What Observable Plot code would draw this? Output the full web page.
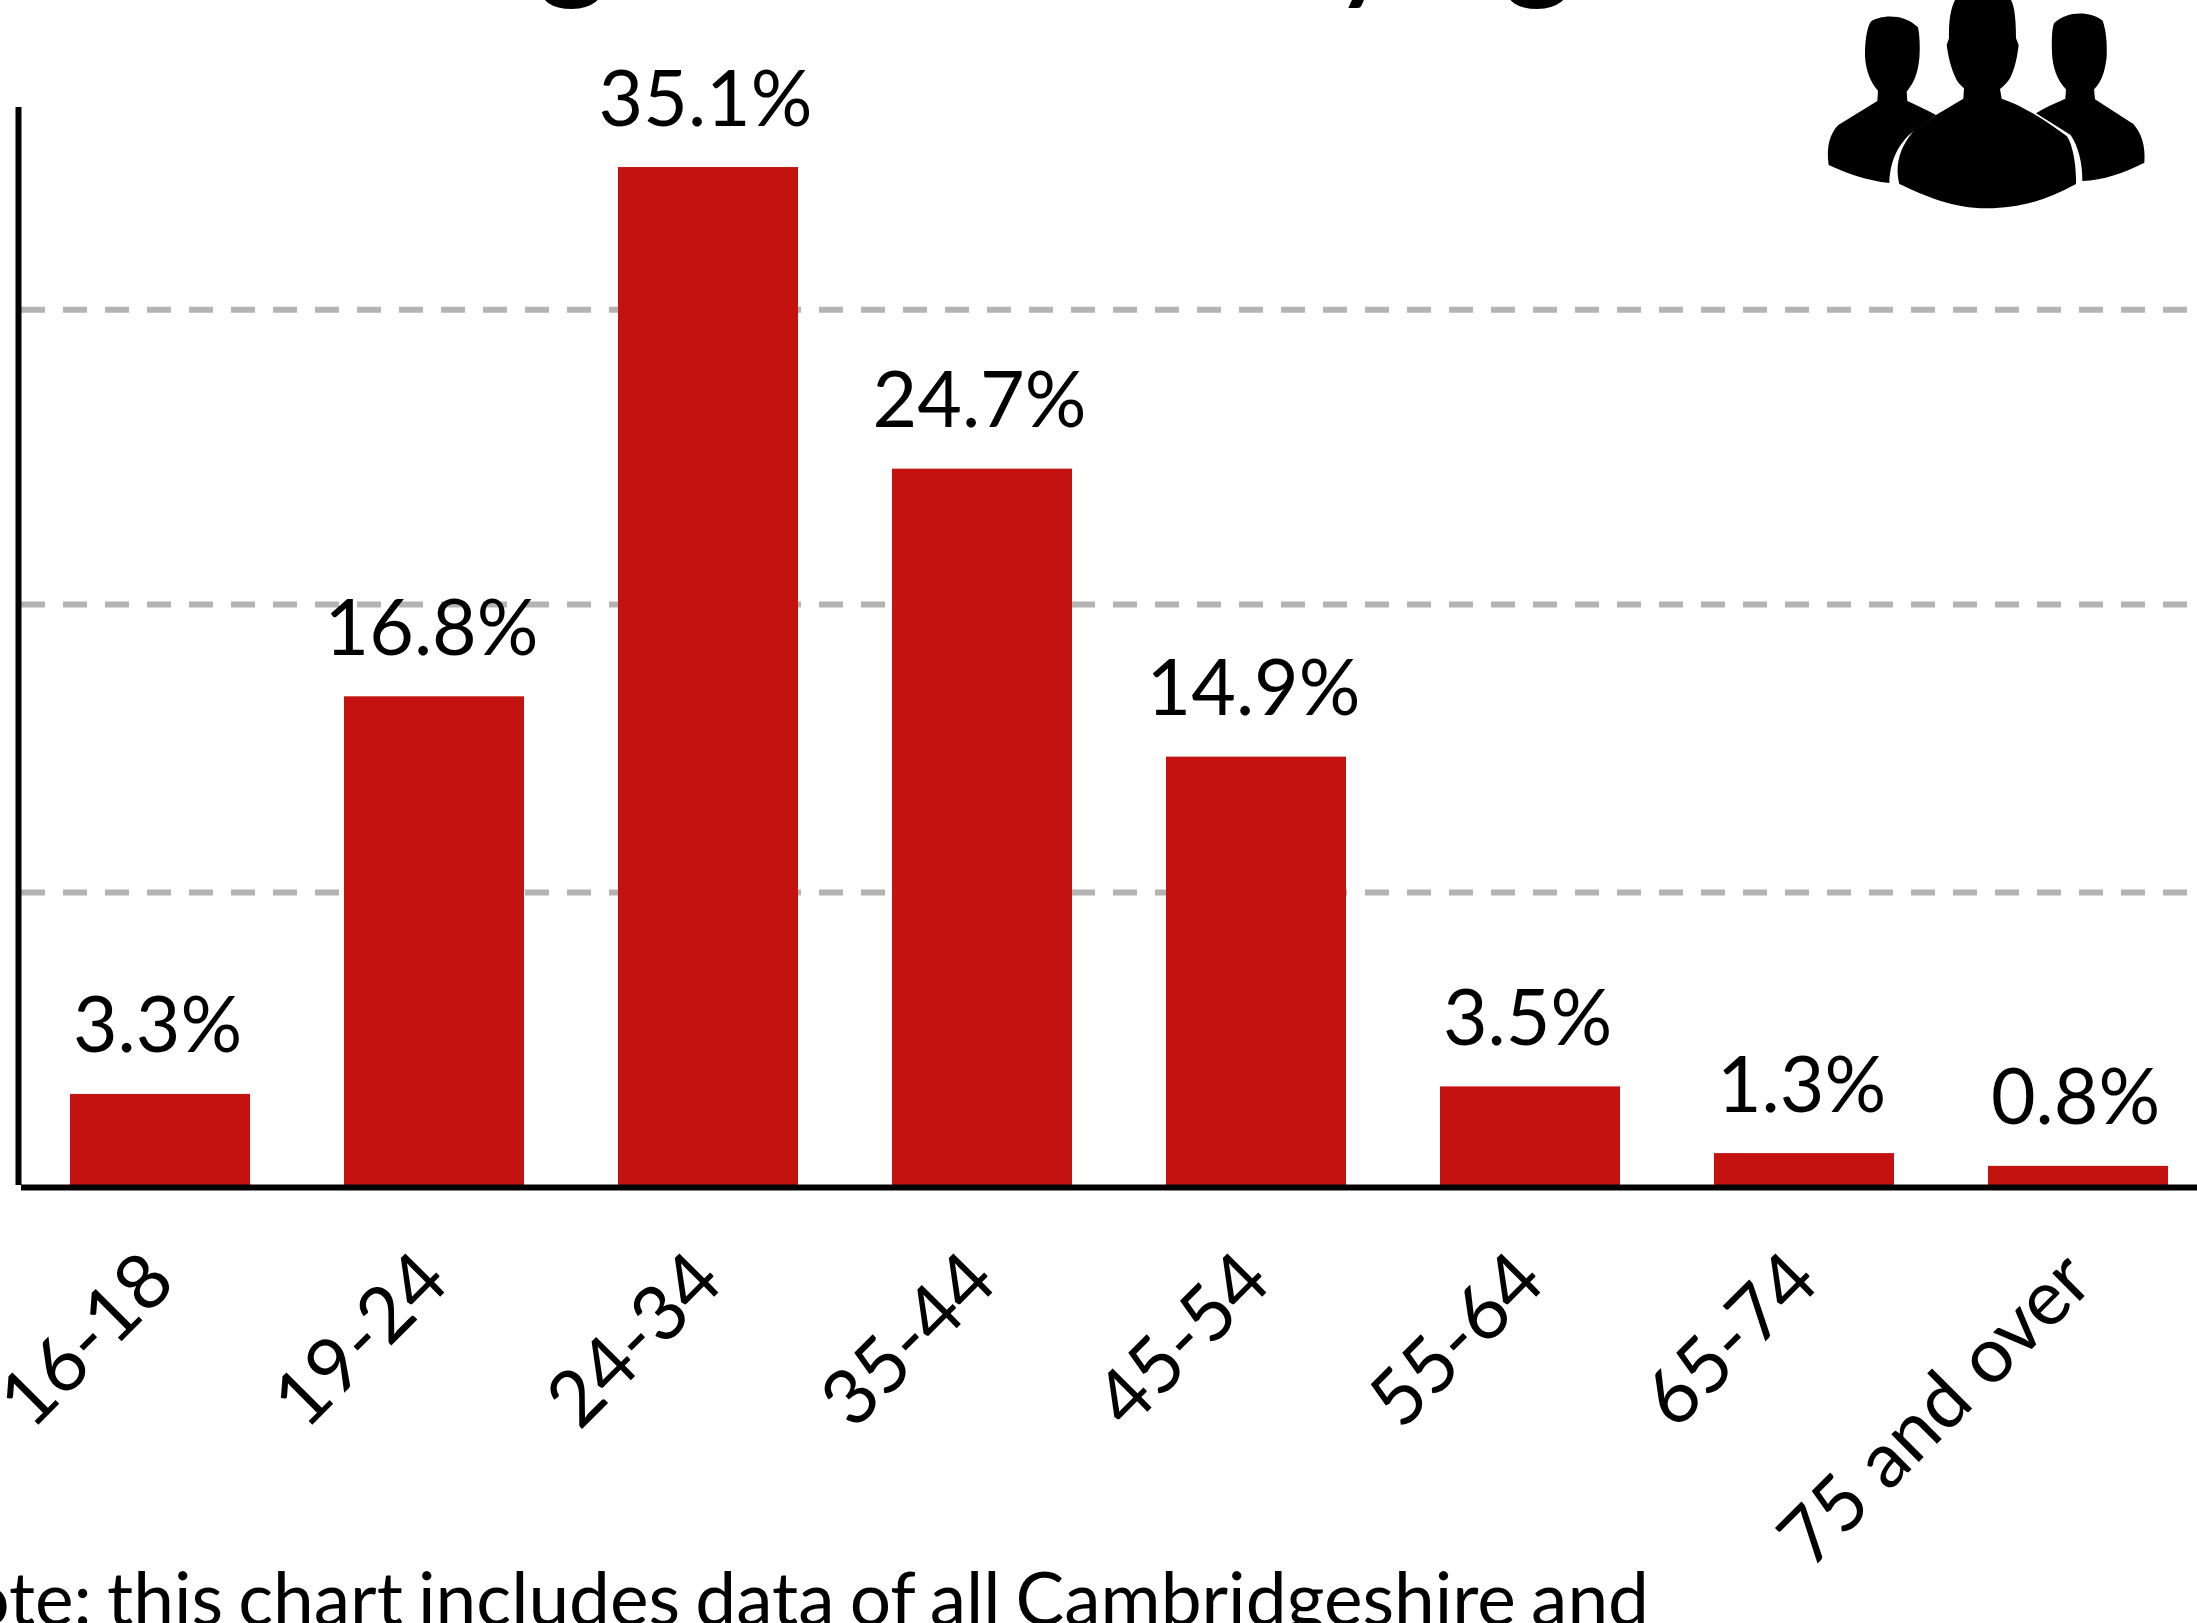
<!DOCTYPE html>
<html>
<head>
<meta charset="utf-8">
<script src="https://cdn.jsdelivr.net/npm/d3@7"></script>
<script src="https://cdn.jsdelivr.net/npm/@observablehq/plot@0.6"></script>
<style>
html,body{margin:0;padding:0;background:#fff;width:2197px;height:1623px;overflow:hidden;position:relative;font-family:Lato,sans-serif;color:#000}
#chart{position:absolute;left:0;top:0}
#title{position:absolute;white-space:nowrap;font-size:138px;line-height:1;right:551px;top:-138px;font-weight:400}
#note{position:absolute;white-space:nowrap;font-size:73px;word-spacing:-3.5px;line-height:1;right:548px;top:1561px}
#icon{position:absolute;left:1780px;top:0}
</style>
</head>
<body>
<div id="title">Drug offenders by age</div>
<div id="chart"></div>
<div id="note">Note: this chart includes data of all Cambridgeshire and</div>
<svg id="icon" width="417" height="230" viewBox="0 0 1251 690">
<path d="M272,65 C300,45 370,38 414,82 C420,110 420,150 418,175 C414,215 405,245 380,275 L382,303 C410,315 440,330 468,345 L405,390 C365,420 330,470 328,549 C260,542 200,520 146,495 C138,440 150,400 175,375 L292,303 L294,272 C270,245 258,210 255,170 C255,130 258,90 272,65 Z"/>
<path d="M822,70 C860,32 930,32 968,62 C978,90 982,130 980,170 C975,215 965,245 942,268 L945,298 L1060,372 C1085,400 1097,440 1093,488 C1030,520 970,540 907,543 C908,490 895,440 872,405 L768,340 C795,322 825,310 856,296 L858,268 C830,240 818,200 816,160 C815,120 815,90 822,70 Z"/>
<path d="M525,0 L693,0 C705,20 708,70 708,115 L716,135 C712,170 705,205 690,235 C680,250 670,260 660,267 L665,296 C720,315 765,340 860,408 C875,425 890,490 888,552 C800,600 720,625 620,625 C520,625 440,590 358,552 C345,500 355,445 405,388 L468,345 L550,296 L552,265 C545,258 535,250 530,240 C512,205 505,170 500,135 L507,115 C506,70 510,30 525,0 Z"/>
</svg>
<script>
const ages = ["16-18","19-24","24-34","35-44","45-54","55-64","65-74","75 and over"];
const shares = [3.3,16.8,35.1,24.7,14.9,3.5,1.3,0.8];
const barHeights = [3.14,16.85,35.1,24.7,14.77,3.4,1.1,0.66];
const gridLevels = [10.1,20.03,30.2];
const rows = ages.map((age,i)=>({age,share:shares[i],bar:barHeights[i]}));
const plot = Plot.plot({
  width:2197,height:1623,
  marginLeft:18,marginRight:0,marginTop:107,marginBottom:438,
  style:{fontFamily:"Lato, sans-serif",color:"#000",background:"transparent",overflow:"visible"},
  x:{domain:ages,paddingInner:0.342,paddingOuter:0.1366,align:0.64,label:null},
  y:{domain:[0,37.17],label:null},
  marks:[
    Plot.ruleY(gridLevels,{stroke:"#b3b3b3",strokeWidth:6,strokeDasharray:"24 18",insetLeft:3}),
    Plot.barY(rows,{x:"age",y:"bar",fill:"#c41210"}),
    Plot.ruleY([0],{stroke:"#000",strokeWidth:6,dy:2,insetLeft:3}),
    Plot.ruleX(["16-18"],{y1:0,y2:37.17,stroke:"#000",strokeWidth:6,dx:-142}),
    Plot.text(rows,{x:"age",y:"bar",text:d=>d.share.toFixed(1)+"%",fontSize:77,fill:"#000",lineAnchor:"bottom",dx:-3,dy:-42}),
    Plot.axisX({tickSize:0,tickRotate:-45,fontSize:77,tickPadding:82,textAnchor:"end",label:null,fill:"#000"}),
    Plot.axisY({ticks:[],label:null,tickSize:0})
  ]
});
document.getElementById("chart").append(plot);
</script>
</body>
</html>
